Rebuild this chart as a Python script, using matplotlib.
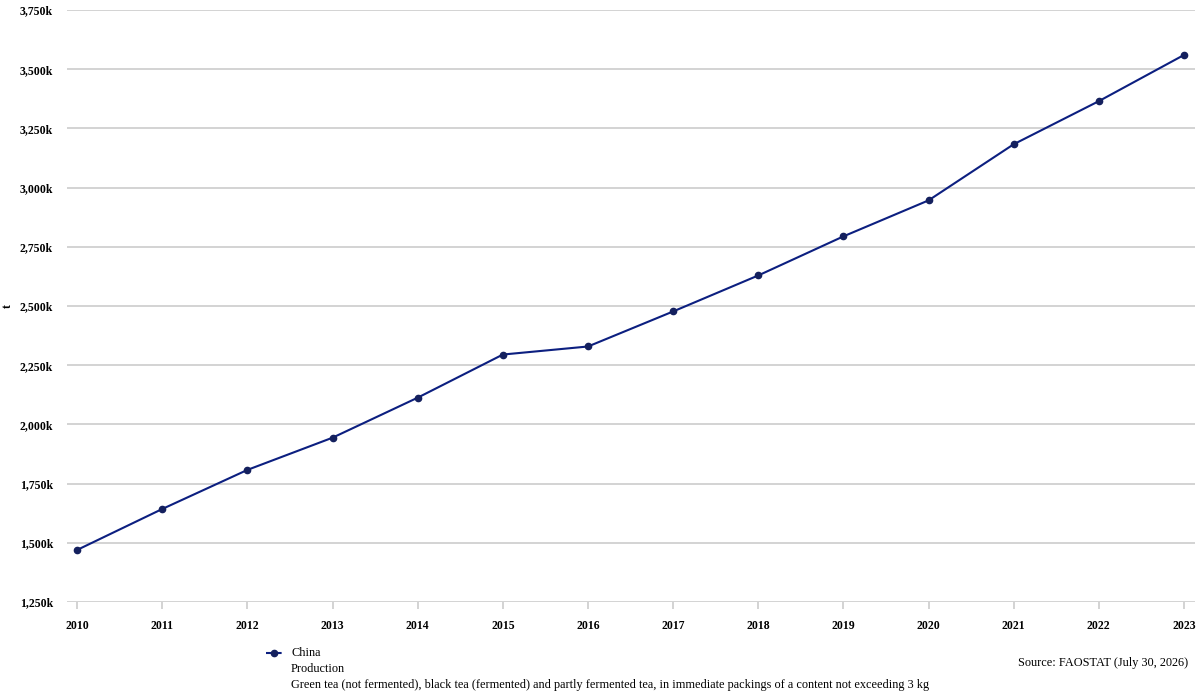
import matplotlib
matplotlib.use("Agg")
import matplotlib.pyplot as plt
import matplotlib.ticker as mticker
from matplotlib.lines import Line2D

years = list(range(2010, 2024))
production_k = [1470, 1643, 1808, 1944, 2113, 2295, 2329, 2477, 2629, 2794, 2946, 3183, 3365, 3560]
y_ticks = [1250, 1500, 1750, 2000, 2250, 2500, 2750, 3000, 3250, 3500, 3750]

plt.rcParams['font.family'] = ['Liberation Serif', 'DejaVu Serif']

line_col = '#0c1f80'
mark_col = '#14205e'
grid_col = '#cccccc'

fig = plt.figure(figsize=(12, 6.93), dpi=100)
ax = fig.add_axes([67 / 1200, 1 - 602 / 693, (1195 - 67) / 1200, (602 - 10) / 693])

ax.plot(years, production_k, color=line_col, linewidth=1.5, marker='o',
        markersize=4.5, markerfacecolor=mark_col, markeredgecolor=mark_col, zorder=3)

ax.set_xlim(2009.88, 2023.13)
ax.set_ylim(1250, 3750)
ax.set_yticks(y_ticks)
ax.set_xticks(years)
ax.yaxis.set_major_formatter(mticker.FuncFormatter(lambda v, p: f"{int(v):,}k"))
ax.grid(axis='y', color=grid_col, linewidth=1.2)
ax.set_axisbelow(True)
for s in ax.spines.values():
    s.set_visible(False)
ax.tick_params(axis='y', length=0, pad=10, labelsize=8.5)
ax.tick_params(axis='x', length=5, color=grid_col, width=1.2, pad=8, labelsize=8.5)
for lab in ax.get_xticklabels() + ax.get_yticklabels():
    lab.set_fontweight('bold')

# y axis unit, placed by hand so it stays inside the picture
fig.text(8 / 1200, 1 - 306 / 693, 't', fontsize=8.5, fontweight='bold',
         rotation=90, va='center', ha='center')

# legend block
fig.lines.append(Line2D([266 / 1200, 282 / 1200], [1 - 653 / 693] * 2, transform=fig.transFigure,
                        color=line_col, linewidth=1.5, linestyle='--', dashes=(3, 1.5)))
fig.lines.append(Line2D([274 / 1200], [1 - 653 / 693], transform=fig.transFigure,
                        color=mark_col, marker='o', markersize=4.5, linestyle='none'))
fig.text(291 / 1200, 1 - 653 / 693, 'China', fontsize=8.8, va='center', ha='left')
fig.text(291 / 1200, 1 - 669 / 693, 'Production', fontsize=8.8, va='center', ha='left')
fig.text(291 / 1200, 1 - 685 / 693,
         'Green tea (not fermented), black tea (fermented) and partly fermented tea, '
         'in immediate packings of a content not exceeding 3 kg',
         fontsize=8.8, va='center', ha='left')
fig.text(1188 / 1200, 1 - 663 / 693, 'Source: FAOSTAT (July 30, 2026)', fontsize=8.8,
         va='center', ha='right')

fig.savefig('out.png', dpi=100)
